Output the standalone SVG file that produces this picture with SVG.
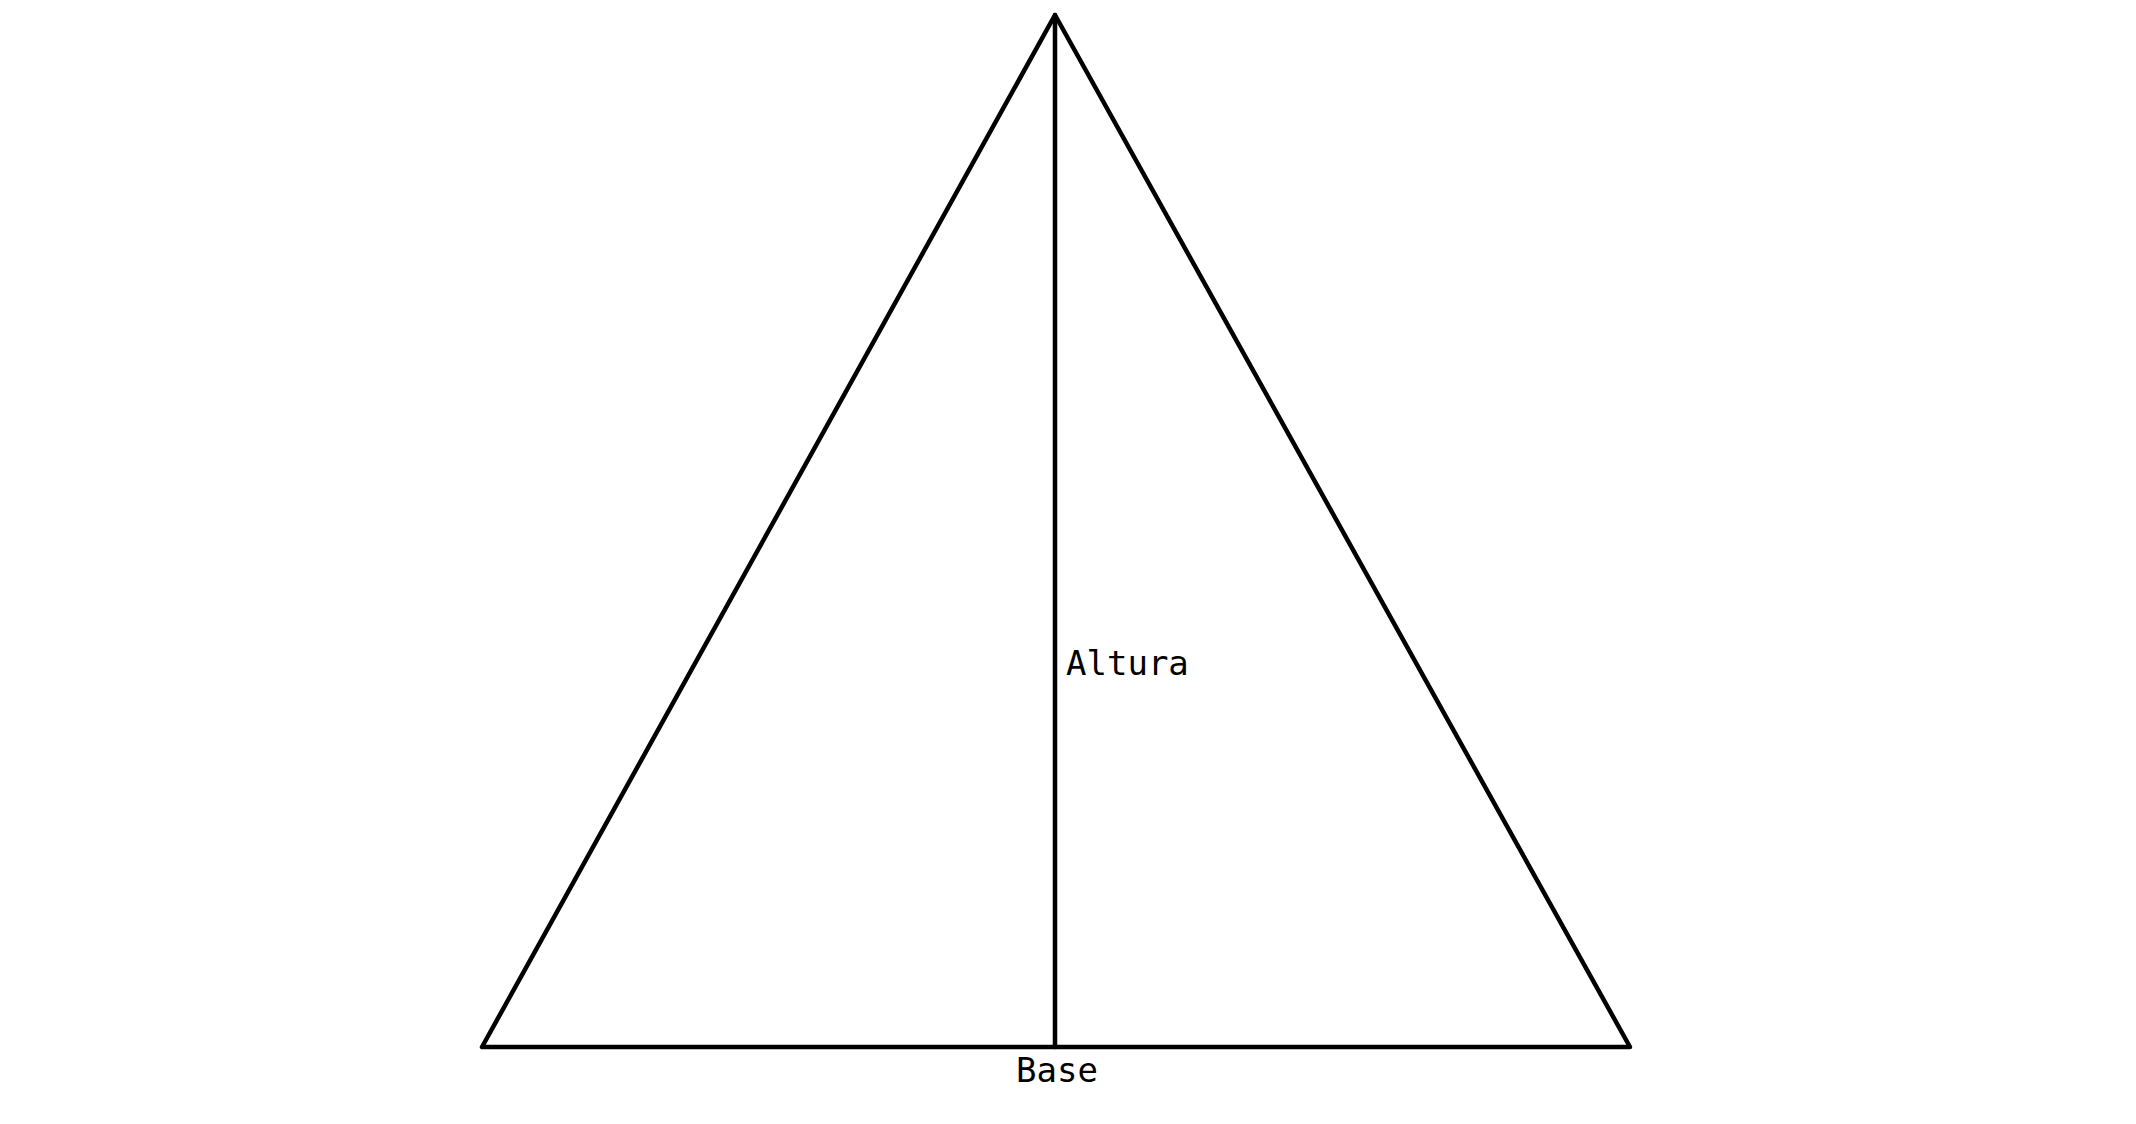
<svg xmlns="http://www.w3.org/2000/svg" width="2136" height="1124" viewBox="0 0 2136 1124">
<style>
.ln{stroke:#000;stroke-width:4.5;fill:none;stroke-linecap:round;stroke-linejoin:round}
.lbl{font-family:"DejaVu Sans Mono","Liberation Mono",monospace;font-size:34px;fill:#000}
</style>
<rect width="2136" height="1124" fill="#fff"/>
<g id="connectors">
<path class="ln" d="M1055 15 L482 1047 L1630 1047 Z"/>
<line class="ln" x1="1055" y1="15" x2="1055" y2="1047"/>
</g>
<g id="altura"><text class="lbl" x="1066" y="675">Altura</text></g>
<g id="base"><text class="lbl" x="1057" y="1082" text-anchor="middle">Base</text></g>
</svg>
